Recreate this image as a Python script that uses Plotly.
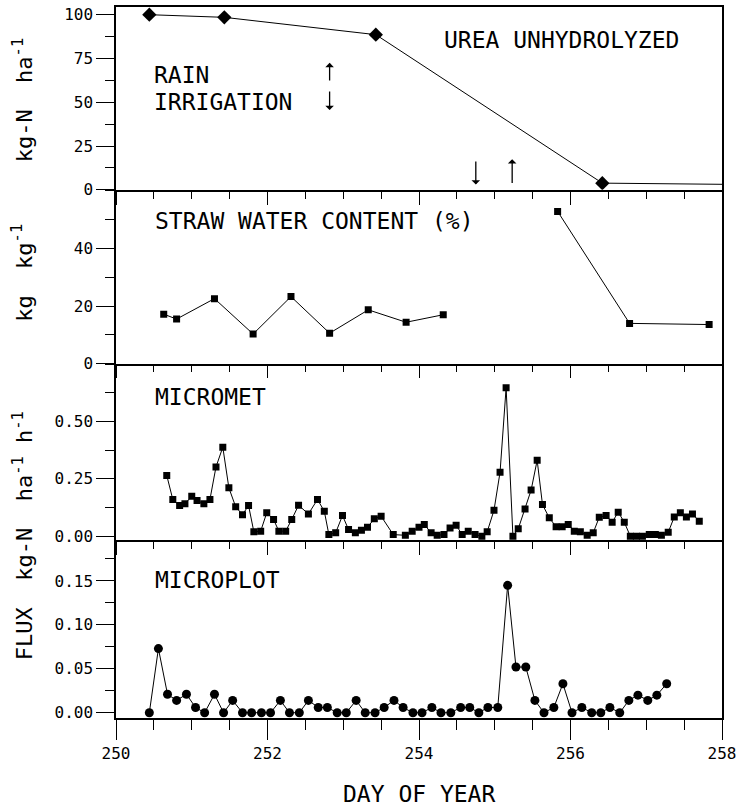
import plotly.graph_objects as go

# ---------------- data ----------------
urea_day = [250.44, 251.43, 253.43, 256.42, 258.3]
urea_val = [100.0, 98.5, 88.6, 3.8, 3.0]

straw_day_a = [250.63, 250.80, 251.30, 251.81, 252.31, 252.82, 253.33, 253.83, 254.32]
straw_val_a = [17.2, 15.5, 22.6, 10.3, 23.3, 10.6, 18.7, 14.4, 17.0]
straw_day_b = [255.83, 256.78, 257.83]
straw_val_b = [52.9, 14.0, 13.6]

micromet_day = [250.67, 250.75, 250.84, 250.91, 251.00, 251.07, 251.16, 251.24, 251.32, 251.41,
                251.49, 251.58, 251.67, 251.75, 251.82, 251.91, 251.99, 252.08, 252.15, 252.24,
                252.32, 252.41, 252.54, 252.66, 252.75, 252.81, 252.90, 252.99, 253.07, 253.16,
                253.24, 253.32, 253.41, 253.50, 253.66, 253.82, 253.91, 254.00, 254.07, 254.16,
                254.24, 254.33, 254.41, 254.49, 254.57, 254.65, 254.74, 254.83, 254.90, 254.99,
                255.07, 255.15, 255.24, 255.31, 255.40, 255.48, 255.56, 255.63, 255.72, 255.81,
                255.89, 255.97, 256.05, 256.13, 256.22, 256.30, 256.38, 256.47, 256.55, 256.63,
                256.71, 256.79, 256.87, 256.95, 257.04, 257.12, 257.20, 257.29, 257.37, 257.45,
                257.53, 257.61, 257.70]
micromet_val = [0.265, 0.160, 0.134, 0.141, 0.174, 0.156, 0.141, 0.160, 0.302, 0.388,
                0.211, 0.128, 0.094, 0.134, 0.019, 0.022, 0.102, 0.073, 0.022, 0.022,
                0.073, 0.135, 0.097, 0.160, 0.109, 0.007, 0.015, 0.090, 0.029, 0.015,
                0.026, 0.039, 0.076, 0.087, 0.007, 0.004, 0.022, 0.039, 0.051, 0.015,
                0.004, 0.007, 0.036, 0.048, 0.007, 0.022, 0.007, 0.000, 0.019, 0.113,
                0.279, 0.647, 0.000, 0.032, 0.119, 0.201, 0.331, 0.138, 0.080, 0.041,
                0.041, 0.051, 0.022, 0.019, 0.004, 0.015, 0.083, 0.090, 0.061, 0.105,
                0.061, 0.000, 0.000, 0.000, 0.007, 0.007, 0.004, 0.017, 0.084, 0.102,
                0.084, 0.097, 0.065]

microplot_day = [250.44, 250.56, 250.68, 250.80, 250.93, 251.05, 251.17, 251.30, 251.42, 251.54,
                 251.67, 251.79, 251.92, 252.04, 252.17, 252.29, 252.42, 252.54, 252.67, 252.79,
                 252.92, 253.04, 253.17, 253.29, 253.42, 253.54, 253.67, 253.79, 253.92, 254.04,
                 254.17, 254.29, 254.42, 254.55, 254.67, 254.79, 254.91, 255.04, 255.17, 255.28,
                 255.41, 255.53, 255.65, 255.78, 255.90, 256.02, 256.15, 256.28, 256.40, 256.52,
                 256.65, 256.77, 256.89, 257.02, 257.14, 257.27]
microplot_val = [0.000, 0.073, 0.021, 0.014, 0.021, 0.006, 0.000, 0.021, 0.000, 0.014,
                 0.000, 0.000, 0.000, 0.000, 0.014, 0.000, 0.000, 0.014, 0.006, 0.006,
                 0.000, 0.000, 0.014, 0.000, 0.000, 0.006, 0.014, 0.006, 0.000, 0.000,
                 0.006, 0.000, 0.000, 0.006, 0.006, 0.000, 0.006, 0.006, 0.145, 0.052,
                 0.052, 0.014, 0.000, 0.006, 0.033, 0.000, 0.006, 0.000, 0.000, 0.006,
                 0.000, 0.014, 0.020, 0.014, 0.020, 0.033]

x_ticks = [250, 252, 254, 256, 258]
p1_ticks = [0, 25, 50, 75, 100]
p2_ticks = [0, 20, 40]
p3_ticks = [0.0, 0.25, 0.5]
p4_ticks = [0.0, 0.05, 0.10, 0.15]

# ---------------- figure ----------------
FONT = "DejaVu Sans Mono"
BLACK = "black"
LW = 1.5

fig = go.Figure()

line = dict(color=BLACK, width=1)
fig.add_trace(go.Scatter(x=urea_day, y=urea_val, mode="lines+markers", line=line,
                         marker=dict(symbol="diamond", size=11, color=BLACK),
                         xaxis="x", yaxis="y"))
fig.add_trace(go.Scatter(x=straw_day_a, y=straw_val_a, mode="lines+markers", line=line,
                         marker=dict(symbol="square", size=7, color=BLACK),
                         xaxis="x2", yaxis="y2"))
fig.add_trace(go.Scatter(x=straw_day_b, y=straw_val_b, mode="lines+markers", line=line,
                         marker=dict(symbol="square", size=7, color=BLACK),
                         xaxis="x2", yaxis="y2"))
fig.add_trace(go.Scatter(x=micromet_day, y=micromet_val, mode="lines+markers", line=line,
                         marker=dict(symbol="square", size=7, color=BLACK),
                         xaxis="x3", yaxis="y3"))
fig.add_trace(go.Scatter(x=microplot_day, y=microplot_val, mode="lines+markers", line=line,
                         marker=dict(symbol="circle", size=9, color=BLACK),
                         xaxis="x4", yaxis="y4"))

# plot area spans page y 5..718, x 116..726 (body margin removed below)
def py(page_y):
    return (718.0 - page_y) / 713.0

def px(page_x):
    return (page_x - 116.0) / 610.0

domains = [[py(188.3), 1.0], [py(362.7), py(188.3)], [py(540), py(362.7)], [0.0, py(540)]]
yranges = [[0, 104.4], [0, 60.4], [-0.0187, 0.752], [-0.006, 0.196]]
yticks = [p1_ticks, p2_ticks, p3_ticks, p4_ticks]
yminor = [12.5, 10, 0.125, 0.025]
yfmt = ["d", "d", ".2f", ".2f"]

tickfont = dict(family=FONT, size=16, color=BLACK)
for i in range(4):
    n = "" if i == 0 else str(i + 1)
    last = (i == 3)
    fig.layout["xaxis" + n] = dict(
        domain=[0, 1], anchor="y" + n, range=[250, 258],
        tickvals=x_ticks, showticklabels=last, tickfont=tickfont,
        ticklabeloverflow="allow",
        ticks="outside", ticklen=20 if last else 13, tickwidth=1.2, tickcolor=BLACK,
        minor=dict(dtick=0.5, tick0=250, ticks="outside", ticklen=10 if last else 7,
                   tickwidth=1.2, tickcolor=BLACK, showgrid=False),
        showline=True, linecolor=BLACK, linewidth=LW, mirror=(i == 0),
        showgrid=False, zeroline=False,
        matches=None if i == 0 else "x",
    )
    fig.layout["yaxis" + n] = dict(
        domain=domains[i], anchor="x" + n, range=yranges[i],
        tickvals=yticks[i], tickformat=yfmt[i], tickfont=tickfont,
        ticklabeloverflow="allow",
        ticks="outside", ticklen=18, tickwidth=1.2, tickcolor=BLACK,
        minor=dict(dtick=yminor[i], tick0=0, ticks="outside", ticklen=9,
                   tickwidth=1.2, tickcolor=BLACK, showgrid=False),
        showline=True, linecolor=BLACK, linewidth=LW, mirror=True,
        showgrid=False, zeroline=False,
    )

afont = dict(family=FONT, size=23, color=BLACK)
ann = []
ann.append(dict(x=255.88, y=85.6, xref="x", yref="y", text="UREA UNHYDROLYZED",
                showarrow=False, font=afont, xanchor="center", yanchor="middle"))
ann.append(dict(x=250.48, y=65.6, xref="x", yref="y", text="RAIN",
                showarrow=False, font=afont, xanchor="left", yanchor="middle"))
ann.append(dict(x=250.48, y=50.3, xref="x", yref="y", text="IRRIGATION",
                showarrow=False, font=afont, xanchor="left", yanchor="middle"))
ann.append(dict(x=250.49, y=49.5, xref="x2", yref="y2", text="STRAW WATER CONTENT (%)",
                showarrow=False, font=afont, xanchor="left", yanchor="middle"))
ann.append(dict(x=250.49, y=0.605, xref="x3", yref="y3", text="MICROMET",
                showarrow=False, font=afont, xanchor="left", yanchor="middle"))
ann.append(dict(x=250.49, y=0.151, xref="x4", yref="y4", text="MICROPLOT",
                showarrow=False, font=afont, xanchor="left", yanchor="middle"))

# arrows (rain up, irrigation down)
arrow_specs = [
    (252.82, 61.5, 72.5),   # legend: rain (up)
    (252.82, 57.0, 45.5),   # legend: irrigation (down)
    (254.75, 17.0, 3.0),    # irrigation event (down)
    (255.23, 3.0, 17.5),    # rain event (up)
]
for xa, ytail, yhead in arrow_specs:
    ann.append(dict(x=xa, y=yhead, ax=xa, ay=ytail, xref="x", yref="y",
                    axref="x", ayref="y", text="", showarrow=True,
                    arrowhead=1, arrowsize=1.1, arrowwidth=1.3, arrowcolor=BLACK))

tfont = dict(family=FONT, size=22, color=BLACK)
ann.append(dict(x=px(22), y=py(98), xref="paper", yref="paper",
                text="kg-N  ha<sup>-1</sup>", textangle=-90, showarrow=False,
                font=tfont, xanchor="center", yanchor="middle"))
ann.append(dict(x=px(22), y=py(272), xref="paper", yref="paper",
                text="kg  kg<sup>-1</sup>", textangle=-90, showarrow=False,
                font=tfont, xanchor="center", yanchor="middle"))
ann.append(dict(x=px(22), y=py(535), xref="paper", yref="paper",
                text="FLUX  kg-N  ha<sup>-1</sup> h<sup>-1</sup>", textangle=-90, showarrow=False,
                font=tfont, xanchor="center", yanchor="middle"))
ann.append(dict(x=px(421), y=py(794), xref="paper", yref="paper",
                text="DAY OF YEAR", showarrow=False,
                font=dict(family=FONT, size=23, color=BLACK), xanchor="center", yanchor="middle"))

fig.update_layout(
    width=741, height=806,
    margin=dict(l=116, r=15, t=5, b=88),
    paper_bgcolor="white", plot_bgcolor="rgba(0,0,0,0)",
    showlegend=False,
    annotations=ann,
    font=dict(family=FONT, color=BLACK),
)

fig.write_html(
    "out.html",
    config={"displayModeBar": False},
    post_script="document.body.style.margin='0';document.documentElement.style.overflow='hidden';",
)
